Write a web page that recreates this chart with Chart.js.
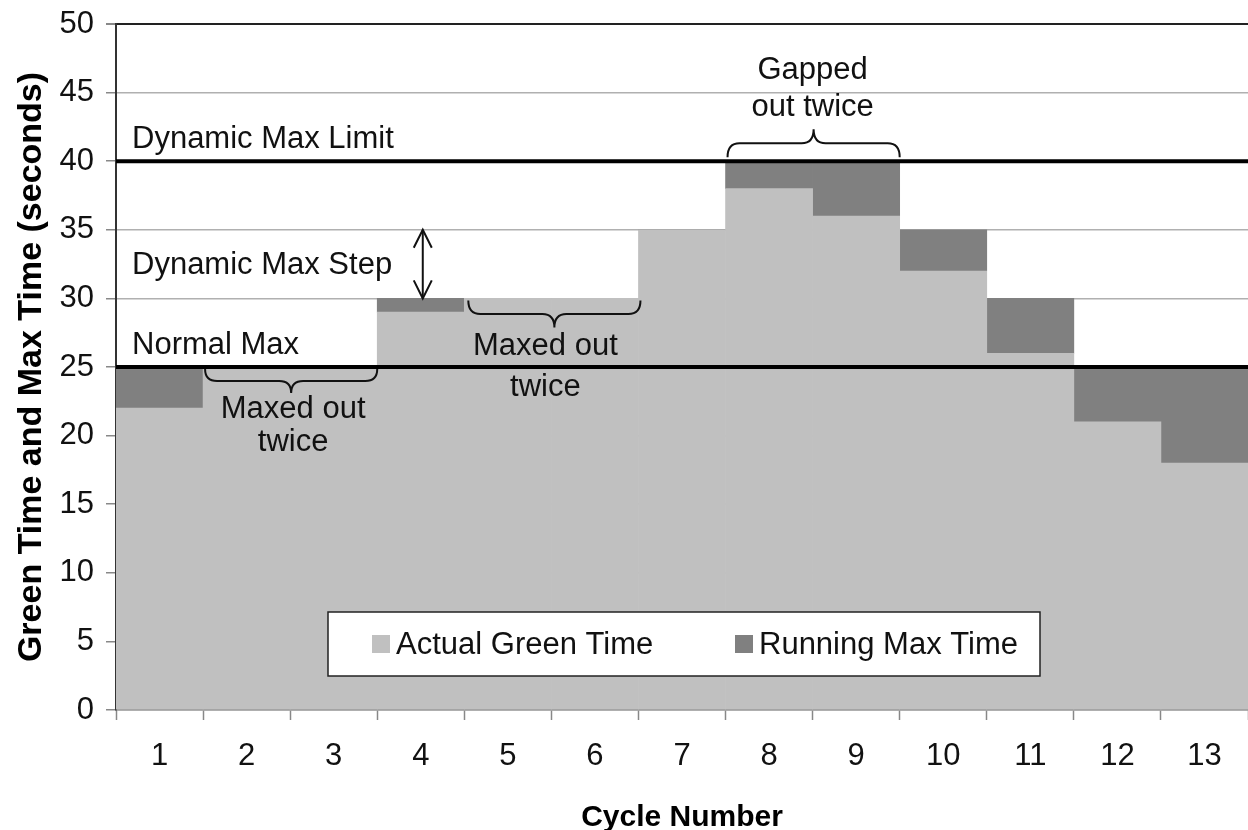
<!DOCTYPE html>
<html>
<head>
<meta charset="utf-8">
<script src="https://cdn.jsdelivr.net/npm/chart.js@4.4.0/dist/chart.umd.min.js"></script>
<style>
  body { margin: 0; background: #fff; }
  #wrap { width: 1248px; height: 830px; }
</style>
</head>
<body>
<div id="wrap"><canvas id="cycleChart" width="1248" height="830"></canvas></div>
<script>
// Values
const cycles = ['1', '2', '3', '4', '5', '6', '7', '8', '9', '10', '11', '12', '13'];
const actualGreen = [22, 25, 25, 29, 30, 30, 35, 38, 36, 32, 26, 21, 18];
const runningMaxGap = [3, 0, 0, 1, 0, 0, 0, 2, 4, 3, 4, 4, 7];
const yTicks = [0, 5, 10, 15, 20, 25, 30, 35, 40, 45, 50];
const dynamicMaxLimit = 40;
const normalMax = 25;
const dynamicMaxStep = [30, 35];

const FONT = "'Liberation Sans', Arial, sans-serif";
const LIGHT = '#c0c0c0';
const DARK = '#808080';

// curly brace, h > 0 points down, h < 0 points up
function drawBrace(ctx, x1, x2, y, h) {
    const xm = (x1 + x2) / 2;
    const q = h / 2;
    const r = 12;
    ctx.beginPath();
    ctx.moveTo(x1, y);
    ctx.quadraticCurveTo(x1, y + q, x1 + r, y + q);
    ctx.lineTo(xm - r, y + q);
    ctx.quadraticCurveTo(xm, y + q, xm, y + h);
    ctx.quadraticCurveTo(xm, y + q, xm + r, y + q);
    ctx.lineTo(x2 - r, y + q);
    ctx.quadraticCurveTo(x2, y + q, x2, y);
    ctx.stroke();
}

function arrowHead(ctx, x, y, dir) {
    ctx.beginPath();
    ctx.moveTo(x - 9, y + dir * 18);
    ctx.lineTo(x, y);
    ctx.lineTo(x + 9, y + dir * 18);
    ctx.stroke();
}

const annotations = {
    id: 'annotations',
    afterDatasetsDraw(chart) {
        const { ctx, chartArea: a, scales: { x, y } } = chart;
        ctx.save();

        // limit lines
        ctx.strokeStyle = '#000';
        ctx.lineWidth = 4;
        [dynamicMaxLimit, normalMax].forEach(v => {
            const py = y.getPixelForValue(v);
            ctx.beginPath();
            ctx.moveTo(a.left, py);
            ctx.lineTo(a.right, py);
            ctx.stroke();
        });

        // labels
        ctx.fillStyle = '#111';
        ctx.font = '31px ' + FONT;
        ctx.textBaseline = 'middle';
        ctx.textAlign = 'left';
        ctx.fillText('Dynamic Max Limit', a.left + 16, y.getPixelForValue(41.6));
        ctx.fillText('Dynamic Max Step', a.left + 16, y.getPixelForValue(32.4));
        ctx.fillText('Normal Max', a.left + 16, y.getPixelForValue(26.6));

        ctx.textAlign = 'center';
        const b1 = (x.getPixelForValue(0.5) + x.getPixelForValue(2.5)) / 2;
        ctx.fillText('Maxed out', b1 + 3, y.getPixelForValue(21.9));
        ctx.fillText('twice', b1 + 3, y.getPixelForValue(19.5));
        ctx.fillText('Maxed out', x.getPixelForValue(4.5) - 6, y.getPixelForValue(26.5));
        ctx.fillText('twice', x.getPixelForValue(4.5) - 6, y.getPixelForValue(23.5));
        ctx.fillText('Gapped', x.getPixelForValue(7.5), y.getPixelForValue(46.6));
        ctx.fillText('out twice', x.getPixelForValue(7.5), y.getPixelForValue(43.9));

        // braces
        ctx.lineWidth = 2;
        ctx.strokeStyle = '#111';
        drawBrace(ctx, x.getPixelForValue(0.5) + 2, x.getPixelForValue(2.5), y.getPixelForValue(normalMax) + 2, 24);
        drawBrace(ctx, x.getPixelForValue(3.5) + 4, x.getPixelForValue(5.5) + 2, y.getPixelForValue(30) + 2, 27);
        drawBrace(ctx, x.getPixelForValue(6.5) + 2, x.getPixelForValue(8.5), y.getPixelForValue(dynamicMaxLimit) - 4, -28);

        // double arrow for the max step
        const ax = x.getPixelForValue(3) + 2;
        const top = y.getPixelForValue(dynamicMaxStep[1]);
        const bot = y.getPixelForValue(dynamicMaxStep[0]);
        ctx.beginPath();
        ctx.moveTo(ax, top);
        ctx.lineTo(ax, bot);
        ctx.stroke();
        arrowHead(ctx, ax, top, 1);
        arrowHead(ctx, ax, bot, -1);

        // legend box inside the plot
        const lx = a.left + 212, ly = a.bottom - 98, lw = 712, lh = 64;
        ctx.fillStyle = '#fff';
        ctx.fillRect(lx, ly, lw, lh);
        ctx.strokeStyle = '#222';
        ctx.lineWidth = 1.5;
        ctx.strokeRect(lx, ly, lw, lh);
        const cy = ly + lh / 2;
        const itemX = [lx + 44, lx + 407];
        ctx.textAlign = 'left';
        chart.data.datasets.forEach((ds, i) => {
            ctx.fillStyle = ds.backgroundColor;
            ctx.fillRect(itemX[i], cy - 9, 18, 18);
            ctx.fillStyle = '#111';
            ctx.fillText(ds.label, itemX[i] + 24, cy + 1);
        });

        ctx.restore();
    }
};

new Chart(document.getElementById('cycleChart'), {
    type: 'bar',
    data: {
        labels: cycles,
        datasets: [{
            label: 'Actual Green Time',
            data: actualGreen,
            backgroundColor: LIGHT,
            borderWidth: 0,
            barPercentage: 1,
            categoryPercentage: 1
        }, {
            label: 'Running Max Time',
            data: runningMaxGap,
            backgroundColor: DARK,
            borderWidth: 0,
            barPercentage: 1,
            categoryPercentage: 1
        }]
    },
    options: {
        responsive: false,
        animation: false,
        layout: { padding: { top: 24, right: 0, left: 0, bottom: 0 } },
        plugins: {
            legend: { display: false },
            tooltip: { enabled: false }
        },
        scales: {
            x: {
                stacked: true,
                grid: { drawOnChartArea: false, offset: true, tickLength: 10, tickColor: '#888', tickWidth: 1.5 },
                border: { color: '#888', width: 1.5 },
                ticks: { color: '#111', font: { family: FONT, size: 31 }, padding: 18, maxRotation: 0 },
                title: {
                    display: true,
                    text: 'Cycle Number',
                    color: '#000',
                    font: { family: FONT, size: 30, weight: 'bold', lineHeight: 0.85 },
                    padding: { top: 0, bottom: 0 }
                },
                afterFit: s => { s.height = 120; }
            },
            y: {
                stacked: true,
                min: 0,
                max: 50,
                afterBuildTicks: s => { s.ticks = yTicks.map(v => ({ value: v })); },
                grid: {
                    color: c => c.tick && c.tick.value === 50 ? '#222' : '#b0b0b0',
                    lineWidth: c => c.tick && c.tick.value === 50 ? 2 : 1.5,
                    tickLength: 10,
                    tickColor: '#888'
                },
                border: { color: '#333', width: 2 },
                ticks: { color: '#111', font: { family: FONT, size: 31, lineHeight: 0.6 }, padding: 12 },
                title: {
                    display: true,
                    text: 'Green Time and Max Time (seconds)',
                    color: '#000',
                    font: { family: FONT, size: 34, weight: 'bold' },
                    padding: { top: 11, bottom: 0 }
                },
                afterFit: s => { s.width = 116; }
            }
        }
    },
    plugins: [annotations]
});
</script>
</body>
</html>
